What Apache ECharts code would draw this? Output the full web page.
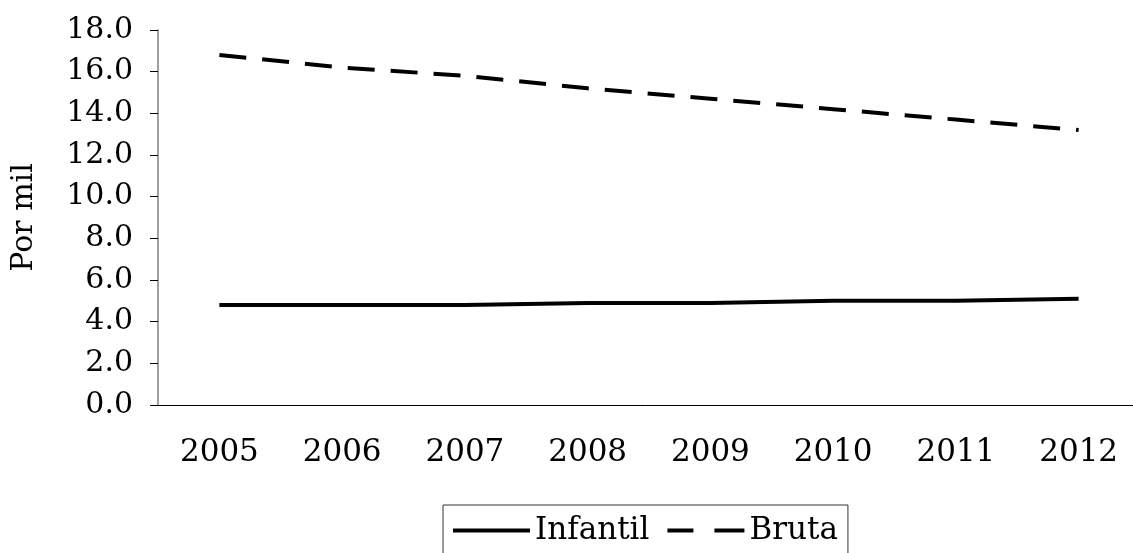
<!DOCTYPE html>
<html>
<head>
<meta charset="utf-8">
<script src="https://cdn.jsdelivr.net/npm/echarts@6/dist/echarts.min.js"></script>
<style>
  html, body { margin: 0; padding: 0; background: #fff; }
  #chart { width: 1133px; height: 553px; }
</style>
</head>
<body>
<div id="chart"></div>
<script>
var years = ['2005', '2006', '2007', '2008', '2009', '2010', '2011', '2012'];
var infantil = [4.8, 4.8, 4.8, 4.9, 4.9, 5.0, 5.0, 5.1];
var bruta = [16.8, 16.2, 15.8, 15.2, 14.7, 14.2, 13.7, 13.2];

var font = 'DejaVu Serif';
var chart = echarts.init(document.getElementById('chart'));

var option = {
  animation: false,
  backgroundColor: '#fff',
  textStyle: { fontFamily: font, color: '#000' },
  grid: {
    left: 158, top: 30, right: -7, bottom: 148,
    containLabel: false,
    outerBoundsMode: 'none'
  },
  legend: {
    left: 443,
    top: 505,
    padding: [10, 10, 20, 10],
    borderColor: '#333',
    borderWidth: 1,
    itemWidth: 77,
    itemHeight: 4,
    itemGap: 18,
    textStyle: { fontFamily: font, fontSize: 31, color: '#000' },
    data: [
      { name: 'Infantil', icon: 'path://M0,0H77V4H0Z' },
      { name: 'Bruta', icon: 'path://M0,0H26V4H0Z M47,0H77V4H47Z' }
    ]
  },
  xAxis: {
    type: 'category',
    data: years,
    boundaryGap: true,
    axisLine: { lineStyle: { color: '#000', width: 1 } },
    axisTick: { length: 10, lineStyle: { color: '#808080' } },
    axisLabel: { margin: 32, fontSize: 31, fontFamily: font, color: '#000' }
  },
  yAxis: {
    type: 'value',
    min: 0,
    max: 18,
    interval: 2,
    name: 'Por mil',
    nameLocation: 'middle',
    nameGap: 119,
    nameTextStyle: { fontSize: 30, fontFamily: font, color: '#000' },
    splitLine: { show: false },
    axisLine: { show: true, lineStyle: { color: '#808080', width: 1.5 } },
    axisTick: { show: true, length: 8, lineStyle: { color: '#000' } },
    axisLabel: {
      margin: 25,
      fontSize: 30,
      fontFamily: font,
      color: '#000',
      formatter: function (v) { return v.toFixed(1); }
    }
  },
  series: [
    {
      name: 'Infantil',
      type: 'line',
      data: infantil,
      symbol: 'none',
      itemStyle: { color: '#000' },
      lineStyle: { color: '#000', width: 4 }
    },
    {
      name: 'Bruta',
      type: 'line',
      data: bruta,
      symbol: 'none',
      itemStyle: { color: '#000' },
      lineStyle: { color: '#000', width: 4, type: [27, 16] }
    }
  ]
};

chart.setOption(option);
</script>
</body>
</html>
